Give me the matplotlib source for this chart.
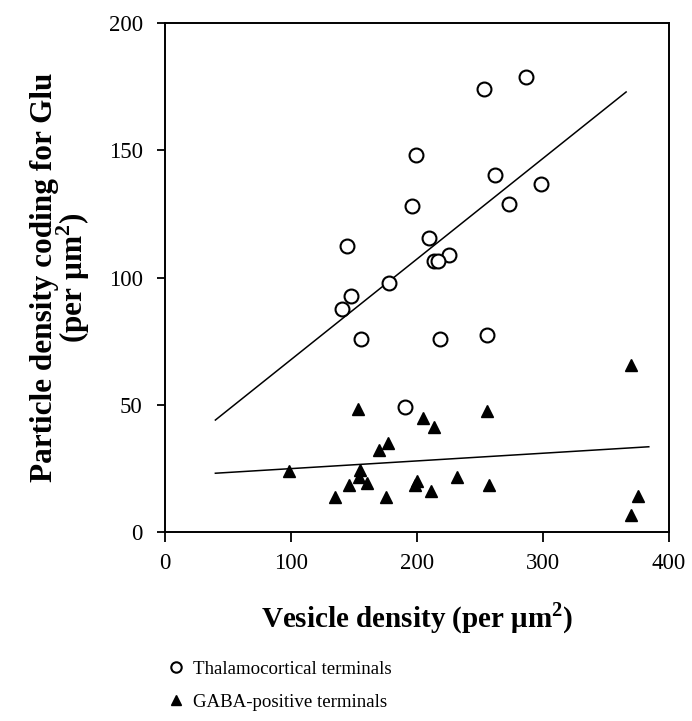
import sys
import matplotlib
matplotlib.use("Agg")
import matplotlib.pyplot as plt

# thalamocortical terminals (open circles)
thal_x = [286.5, 253.2, 199.2, 261.9, 298.4, 196.3, 273.3, 144.2, 209.8, 225.1,
          213.5, 216.7, 177.5, 147.4, 140.5, 155.8, 218.3, 255.3, 190.2]
thal_y = [178.9, 173.9, 148.0, 140.2, 136.7, 128.2, 129.0, 112.4, 115.5, 108.7,
          106.6, 106.6, 97.7, 92.9, 87.8, 75.7, 75.7, 77.3, 49.3]

# GABA-positive terminals (filled triangles)
gaba_x = [369.6, 153.2, 255.8, 205.0, 213.5, 177.0, 170.1, 98.7, 154.8, 154.2,
          160.1, 146.3, 200.3, 198.7, 232.0, 257.4, 134.7, 175.4, 210.9, 375.4,
          369.6]
gaba_y = [65.5, 48.2, 47.7, 44.8, 41.4, 34.8, 32.2, 23.8, 24.4, 21.7,
          19.4, 18.3, 20.2, 18.6, 21.7, 18.3, 13.6, 13.6, 16.2, 14.1,
          6.6]

# regression lines (end points)
thal_fit_x = [40, 366]
thal_fit_y = [44.0, 172.9]
gaba_fit_x = [40, 384]
gaba_fit_y = [23.1, 33.5]

x_ticks = [0, 100, 200, 300, 400]
y_ticks = [0, 50, 100, 150, 200]

thal_label = "Thalamocortical terminals"
gaba_label = "GABA-positive terminals"


def main():
    plt.rcParams['font.family'] = ['Liberation Serif', 'DejaVu Serif']
    plt.rcParams['mathtext.fontset'] = 'custom'
    plt.rcParams['mathtext.rm'] = 'Liberation Serif'
    plt.rcParams['mathtext.bf'] = 'Liberation Serif:bold'

    f = plt.figure(figsize=(6.92, 7.21), dpi=100)
    axis = f.add_axes([0.2384, 0.2621, 0.7283, 0.706])

    axis.plot(thal_fit_x, thal_fit_y, color="black", linewidth=1.1)
    axis.plot(gaba_fit_x, gaba_fit_y, color="black", linewidth=1.1)
    axis.plot(thal_x, thal_y, linestyle="none", marker="o", markersize=10,
              markerfacecolor="white", markeredgecolor="black",
              markeredgewidth=1.5, label=thal_label)
    axis.plot(gaba_x, gaba_y, linestyle="none", marker="^", markersize=9,
              color="black", label=gaba_label)

    axis.set_xlim([0, 400])
    axis.set_ylim([0, 200])
    axis.set_xticks(x_ticks)
    axis.set_yticks(y_ticks)
    for s in axis.spines.values():
        s.set_linewidth(1.4)
    axis.tick_params(axis='x', direction='out', length=7, width=1.3,
                     labelsize=16.5, pad=8)
    axis.tick_params(axis='y', direction='out', length=6, width=1.3,
                     labelsize=16.5, pad=10)

    axis.set_xlabel(r"Vesicle density (per μm$^{\mathbf{2}}$)",
                    fontsize=21, fontweight='bold', labelpad=19)
    axis.set_ylabel("Particle density coding for Glu\n"
                    r"(per μm$^{\mathbf{2}}$)",
                    fontsize=22.5, fontweight='bold', labelpad=12,
                    linespacing=0.85)

    # legend below the plot, laid out as two text rows
    f.legend(loc='upper left', bbox_to_anchor=(0.246, 0.084), frameon=False,
             fontsize=13.6, handlelength=0.6, handletextpad=0.6,
             labelspacing=0.85, borderaxespad=0, borderpad=0,
             markerscale=0.75)

    f.savefig("out.png", dpi=100)


if __name__ == "__main__":
    sys.exit(main())
